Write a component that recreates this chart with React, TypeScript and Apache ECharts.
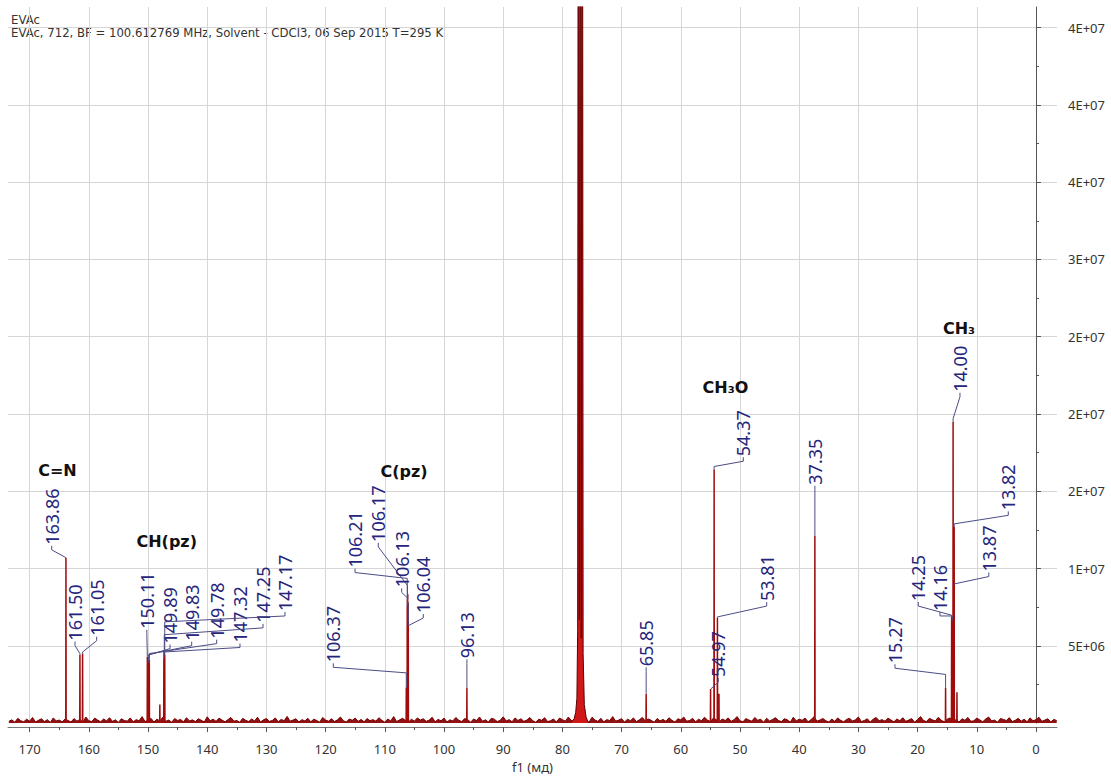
import React, { useEffect, useRef } from "react";
import * as echarts from "echarts";

// ---- axis ----
const X_MIN = -3.55;
const X_MAX = 173.65;
const Y_MAX = 4.633e7;
const X_TICKS = [170, 160, 150, 140, 130, 120, 110, 100, 90, 80, 70, 60, 50, 40, 30, 20, 10, 0];
const X_MINOR = [165, 155, 145, 135, 125, 115, 105, 95, 85, 75, 65, 55, 45, 35, 25, 15, 5];
const Y_TICKS = [5e6, 1e7, 1.5e7, 2e7, 2.5e7, 3e7, 3.5e7, 4e7, 4.5e7];
const Y_TICK_LABELS = ["5E+06", "1E+07", "2E+07", "2E+07", "2E+07", "3E+07", "4E+07", "4E+07", "4E+07"];
const Y_MINOR = [2.5e6, 7.5e6, 1.25e7, 1.75e7, 2.25e7, 2.75e7, 3.25e7, 3.75e7, 4.25e7];

// ---- baseline noise (units of 1.4e4), every 0.5 ppm from 173.5 ppm ----
const NOISE_START = 173.5;
const NOISE_STEP = 0.5;
const NOISE_UNIT = 1.4e4;
const NOISE = [
  8, 15, 4, 22, 11, 6, 18, 9, 26, 5, 13, 20, 7, 16, 3, 24, 10, 14, 6, 19,
  12, 5, 21, 9, 17, 4, 28, 11, 7, 23, 14, 6, 19, 10, 25, 8, 15, 3, 20, 12,
  9, 24, 6, 16, 11, 30, 7, 13, 22, 5, 18, 10, 27, 8, 14, 4, 21, 12, 17, 6,
  25, 10, 15, 7, 20, 13, 5, 29, 11, 18, 8, 23, 14, 6, 16, 26, 9, 12, 4, 22,
  13, 7, 19, 10, 27, 5, 15, 21, 8, 12, 24, 6, 17, 11, 31, 9, 14, 20, 5, 16,
  10, 22, 6, 18, 12, 4, 26, 14, 9, 20, 7, 15, 28, 11, 5, 19, 13, 23, 8, 17,
  6, 21, 11, 16, 9, 25, 13, 4, 19, 10, 30, 7, 15, 22, 12, 5, 18, 9, 24, 14,
  20, 8, 14, 27, 6, 17, 11, 23, 5, 15, 10, 26, 13, 7, 21, 16, 4, 19, 12, 28,
  9, 15, 5, 22, 18, 7, 13, 29, 10, 16, 6, 24, 12, 20, 8, 14, 26, 11, 4, 18,
  13, 25, 7, 11, 19, 5, 23, 16, 9, 28, 12, 6, 17, 21, 10, 15, 4, 27, 14, 8,
  22, 6, 16, 12, 30, 9, 14, 20, 5, 18, 11, 24, 7, 15, 26, 10, 19, 13, 4, 21,
  10, 17, 8, 25, 13, 5, 20, 15, 28, 9, 12, 22, 6, 18, 11, 27, 14, 7, 23, 16,
  5, 19, 12, 24, 8, 16, 30, 11, 6, 21, 14, 9, 26, 13, 18, 4, 22, 10, 17, 25,
  12, 7, 20, 15, 4, 27, 10, 18, 13, 23, 6, 16, 29, 9, 14, 21, 11, 5, 19, 8,
  24, 13, 6, 17, 22, 10, 15, 28, 7, 12, 20, 5, 18, 26, 11, 16, 9, 23, 14, 6,
  19, 11, 25, 8, 14, 21, 4, 17, 30, 12, 7, 22, 15, 10, 27, 13, 6, 18, 24, 9,
  16, 5, 20, 13, 26, 8, 11, 23, 15, 6, 19, 28, 10, 14, 4, 21, 17, 12, 25, 7,
  13, 22, 9, 18, 6, 24, 11, 16, 27, 8, 14, 20, 5, 17, 12,
];

// ---- sharp peaks ----
const PEAK_PPM = [
  163.86, 161.5, 161.05, 150.11, 149.89, 149.83, 149.78, 148.0, 147.32, 147.25, 147.17,
  106.37, 106.21, 106.17, 106.13, 106.04, 96.13, 65.85, 54.97, 54.37, 53.81, 53.55,
  37.35, 15.27, 14.25, 14.16, 14.0, 13.87, 13.82, 13.35,
];
const PEAK_HEIGHT = [
  1.07e7, 4.4e6, 4.5e6, 4.3e6, 4.0e6, 3.9e6, 4.1e6, 1.2e6, 4.2e6, 4.6e6, 4.4e6,
  2.3e6, 7.6e6, 8.0e6, 8.34e6, 7.8e6, 2.27e6, 1.89e6, 2.2e6, 1.64e7, 6.8e6, 1.9e6,
  1.21e7, 2.29e6, 6.9e6, 6.6e6, 1.95e7, 9.0e6, 1.27e7, 2.0e6,
];

// ---- CDCl3 solvent triplet ----
const SOLVENT_PPM = [78.4, 78.0, 77.75, 77.55, 77.42, 77.3, 77.14, 76.97, 76.81, 76.64, 76.5, 76.3, 76.0, 75.7];
const SOLVENT_VAL = [1e5, 3e5, 7e5, 1.6e6, 6e6, 9e7, 6.7e6, 9e7, 5.5e6, 9e7, 4.5e6, 1.2e6, 4e5, 1e5];

// ---- peak labels ----
const LABEL_TEXT = [
  "163.86", "161.50", "161.05", "150.11", "149.89", "149.83", "149.78", "147.32", "147.25", "147.17",
  "106.37", "106.21", "106.17", "106.13", "106.04", "96.13", "65.85", "54.97", "54.37", "53.81",
  "37.35", "15.27", "14.25", "14.16", "14.00", "13.87", "13.82",
];
const LABEL_TOP = [
  1.07e7, 4.4e6, 4.5e6, 4.3e6, 4.0e6, 3.9e6, 4.1e6, 4.2e6, 4.6e6, 4.4e6,
  2.3e6, 7.6e6, 8.0e6, 8.34e6, 7.8e6, 2.27e6, 1.89e6, 2.2e6, 1.64e7, 6.8e6,
  1.21e7, 2.29e6, 6.9e6, 6.6e6, 1.95e7, 9.0e6, 1.27e7,
];
const LABEL_KNEE = [
  1.07e7, 4.5e6, 4.6e6, 4.3e6, 4.4e6, 4.45e6, 4.5e6, 4.6e6, 5.72e6, 6.55e6,
  3.25e6, 9.36e6, 8.9e6, 8.08e6, 6.3e6, 2.27e6, 1.89e6, 2.2e6, 1.66e7, 6.87e6,
  1.21e7, 3.15e6, 6.98e6, 6.93e6, 1.97e7, 9.0e6, 1.289e7,
];
const LABEL_X = [
  166.27, 162.33, 158.67, 150.2, 146.28, 142.62, 138.4, 134.46, 130.57, 126.86,
  118.7, 115.03, 111.1, 107.15, 103.5, 96.13, 65.85, 53.67, 49.44, 45.49,
  37.35, 23.82, 19.88, 16.22, 12.84, 7.97, 4.68,
];
const LABEL_BOTTOM = [
  1.147e7, 5.27e6, 5.59e6, 6.04e6, 5.08e6, 5.27e6, 5.4e6, 5.15e6, 6.42e6, 7.19e6,
  3.87e6, 1.0e7, 1.166e7, 8.72e6, 7.06e6, 4.13e6, 3.61e6, 2.91e6, 1.72e7, 7.83e6,
  1.536e7, 3.81e6, 7.83e6, 7.19e6, 2.137e7, 9.74e6, 1.37e7,
];

// ---- group annotations ----
const GROUP_TEXT = ["C=N", "CH(pz)", "C(pz)", "CH\u2083O", "CH\u2083"];
const GROUP_PPM = [165.29, 146.84, 106.76, 52.45, 13.01];
const GROUP_VAL = [1.634e7, 1.172e7, 1.626e7, 2.172e7, 2.552e7];

const TITLE = "EVAc";
const SUBTITLE = "EVAc, 712, BF = 100.612769 MHz, Solvent - CDCl3, 06 Sep 2015 T=295 K";
const X_NAME = "f1 (\u043c\u0434)";

const FONT = '"Noto Sans", "DejaVu Sans", sans-serif';

export default function App() {
  const ref = useRef<HTMLDivElement>(null);
  useEffect(() => {
    if (!ref.current) return;
    const chart = echarts.init(ref.current, null, { renderer: "svg" });

    const noiseData = NOISE.map((v, i) => [NOISE_START - i * NOISE_STEP, v * NOISE_UNIT]);
    const peakData: any[] = [];
    PEAK_PPM.forEach((p, i) => {
      peakData.push([p + 0.03, 0]);
      peakData.push([p, PEAK_HEIGHT[i]]);
      peakData.push([p - 0.03, 0]);
      peakData.push([p - 0.03, "-"]);
    });
    const solventData = SOLVENT_PPM.map((p, i) => [p, SOLVENT_VAL[i]]);
    const labelData = LABEL_TEXT.map((t, i) => [
      parseFloat(t), LABEL_TOP[i], LABEL_KNEE[i], LABEL_X[i], LABEL_BOTTOM[i],
    ]);
    const groupData = GROUP_TEXT.map((t, i) => [GROUP_PPM[i], GROUP_VAL[i]]);

    const xBase = {
      type: "value",
      min: X_MIN,
      max: X_MAX,
      inverse: true,
      position: "bottom",
      offset: 4,
      gridIndex: 0,
    };
    const yBase = {
      type: "value",
      min: 0,
      max: Y_MAX,
      position: "right",
      offset: 5,
      gridIndex: 0,
    };

    chart.setOption({
      animation: false,
      backgroundColor: "#ffffff",
      grid: { left: 8, right: 54, top: 7, bottom: 45.4, containLabel: false },
      graphic: [
        { type: "text", left: 11, top: 14, style: { text: TITLE, font: '11.7px "DejaVu Sans"', fill: "#333" } },
        { type: "text", left: 11, top: 27, style: { text: SUBTITLE, font: '11.7px "DejaVu Sans"', fill: "#333" } },
      ],
      xAxis: [
        {
          ...xBase,
          name: X_NAME,
          nameLocation: "middle",
          nameGap: 31,
          nameTextStyle: { fontFamily: FONT, fontSize: 13, color: "#333" },
          axisLine: { show: true, onZero: false, lineStyle: { color: "#777", width: 1 } },
          axisTick: { show: true, customValues: X_TICKS, length: 5, lineStyle: { color: "#555" } },
          axisLabel: {
            customValues: X_TICKS,
            fontFamily: FONT,
            fontSize: 13,
            color: "#333",
            margin: 15,
          },
          splitLine: { show: true, lineStyle: { color: "#d6d6d6", width: 1 } },
        },
        {
          ...xBase,
          axisLine: { show: false, onZero: false },
          axisTick: { show: true, customValues: X_MINOR, length: 3, lineStyle: { color: "#555" } },
          axisLabel: { show: false },
          splitLine: { show: false },
        },
      ],
      yAxis: [
        {
          ...yBase,
          axisLine: { show: true, lineStyle: { color: "#555", width: 1 } },
          axisTick: { show: true, customValues: Y_TICKS, length: 5, lineStyle: { color: "#555" } },
          axisLabel: {
            customValues: Y_TICKS,
            fontFamily: FONT,
            fontSize: 13,
            color: "#333",
            margin: 6,
            formatter: (v: number) => {
              const j = Y_TICKS.findIndex((t) => Math.abs(t - v) < 10);
              return j >= 0 ? Y_TICK_LABELS[j] : "";
            },
          },
          splitLine: { show: true, lineStyle: { color: "#d6d6d6", width: 1 } },
        },
        {
          ...yBase,
          axisLine: { show: false },
          axisTick: { show: true, customValues: Y_MINOR, length: 3, lineStyle: { color: "#555" } },
          axisLabel: { show: false },
          splitLine: { show: false },
        },
      ],
      series: [
        {
          type: "line",
          name: "noise",
          data: noiseData,
          xAxisIndex: 0,
          yAxisIndex: 0,
          symbol: "none",
          lineStyle: { color: "#7a0000", width: 1 },
          areaStyle: { color: "#8b0505", opacity: 0.95 },
          silent: true,
          z: 2,
        },
        {
          type: "line",
          name: "peaks",
          data: peakData,
          xAxisIndex: 0,
          yAxisIndex: 0,
          symbol: "none",
          connectNulls: false,
          lineStyle: { color: "#a00c0c", width: 1.5 },
          silent: true,
          z: 3,
        },
        {
          type: "line",
          name: "solvent",
          data: solventData,
          xAxisIndex: 0,
          yAxisIndex: 0,
          symbol: "none",
          lineStyle: { color: "#5a0000", width: 1 },
          areaStyle: { color: "#d01818", opacity: 1 },
          silent: true,
          z: 3,
        },
        {
          type: "custom",
          name: "labels",
          data: labelData,
          xAxisIndex: 0,
          yAxisIndex: 0,
          silent: true,
          clip: false,
          z: 5,
          renderItem: (params: any, api: any) => {
            const i = params.dataIndex;
            const a = api.coord([api.value(0), api.value(1)]);
            const k = api.coord([api.value(0), api.value(2)]);
            const l = api.coord([api.value(3), api.value(4)]);
            const pts = [a, k, [l[0], l[1] + 4], [l[0], l[1]]];
            return {
              type: "group",
              children: [
                {
                  type: "polyline",
                  shape: { points: pts },
                  style: { stroke: "#4c4c86", lineWidth: 1, fill: null },
                },
                {
                  type: "text",
                  x: l[0],
                  y: l[1] - 1,
                  rotation: Math.PI / 2,
                  style: {
                    text: LABEL_TEXT[i],
                    fill: "#25257c",
                    font: `18px ${FONT}`,
                    align: "left",
                    verticalAlign: "middle",
                  },
                },
              ],
            };
          },
        },
        {
          type: "custom",
          name: "groups",
          data: groupData,
          xAxisIndex: 0,
          yAxisIndex: 0,
          silent: true,
          clip: false,
          z: 5,
          renderItem: (params: any, api: any) => {
            const i = params.dataIndex;
            const c = api.coord([api.value(0), api.value(1)]);
            return {
              type: "text",
              x: c[0],
              y: c[1],
              style: {
                text: GROUP_TEXT[i],
                fill: "#111",
                font: 'bold 16px "DejaVu Sans", sans-serif',
                align: "center",
                verticalAlign: "middle",
              },
            };
          },
        },
      ],
    });
    return () => chart.dispose();
  }, []);
  return (
    <div
      ref={ref}
      style={{ position: "absolute", left: 0, top: 0, width: 1111, height: 778, background: "#fff" }}
    />
  );
}
